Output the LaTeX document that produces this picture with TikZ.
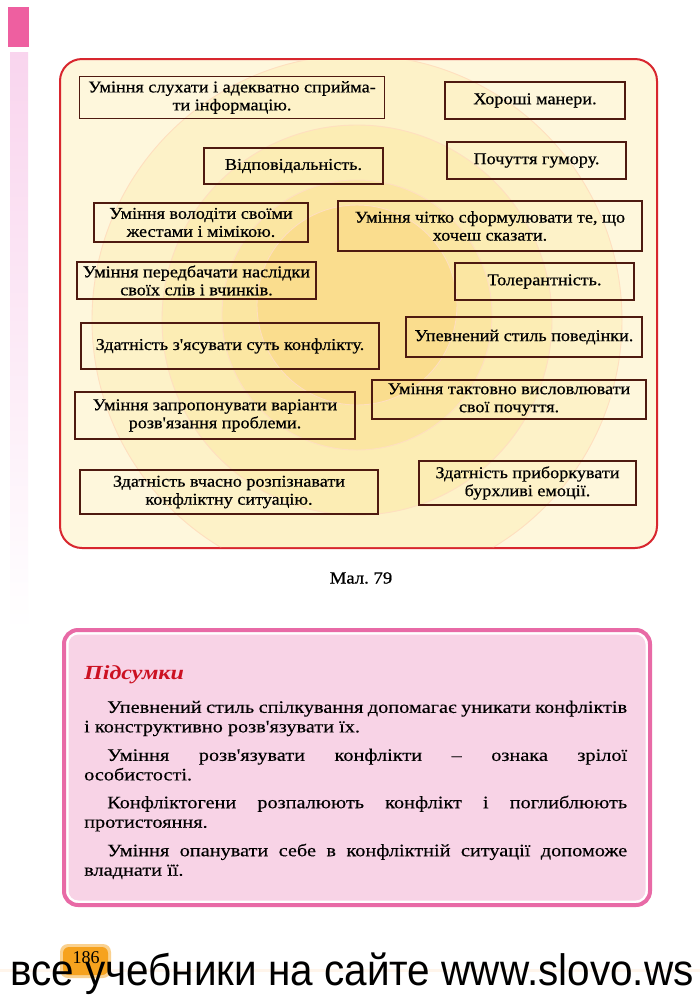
\documentclass[tikz,border=0pt]{standalone}
\usepackage{fontspec}
\setmainfont{Liberation Serif}
\newfontfamily\boxfont[FakeStretch=1.1,FakeBold=0.6]{Liberation Serif}
\newfontfamily\sumfont[FakeStretch=1.16,FakeBold=0.3]{Liberation Serif}
\newfontfamily\capfont[FakeStretch=1.1,FakeBold=0.8]{Liberation Serif}
\newfontfamily\titlefont[FakeStretch=1.2]{Liberation Serif}
\newfontfamily\wmfont[FakeStretch=0.92]{Liberation Sans}
\definecolor{framered}{HTML}{D8262E}
\definecolor{framebg}{HTML}{FEF7DC}
\definecolor{ringa}{HTML}{FDF2C8}
\definecolor{ringb}{HTML}{FCEDB4}
\definecolor{ringc}{HTML}{FBE6A2}
\definecolor{ringd}{HTML}{FADD8E}
\definecolor{boxline}{HTML}{4E1A10}
\definecolor{sumpink}{HTML}{E86AA6}
\definecolor{sumbg}{HTML}{F8D3E6}
\definecolor{titlered}{HTML}{CC1122}
\definecolor{barpink}{HTML}{EE5FA0}
\definecolor{barlight}{HTML}{F9D5EE}
\definecolor{badge}{HTML}{F6A21E}
\begin{document}
\begin{tikzpicture}[x=1pt,y=-1pt,
        box/.style={draw=boxline, line width=1.6pt, inner sep=2pt,
            align=center, font=\boxfont\fontsize{16.5}{18}\selectfont},
        ring/.style={draw=orange!25, line width=0.9pt},
        para/.style={anchor=north west, inner sep=0pt, text width=543pt,
            align=justify, font=\sumfont\fontsize{17.5}{19.5}\selectfont}]
    \useasboundingbox (0,0) rectangle (700,997);
    \fill[white] (0,0) rectangle (700,997);
    % page margin bar
    \fill[barpink] (8,7) rectangle (29,47);
    \shade[top color=barlight, bottom color=white] (10,52) rectangle (28,630);
    % figure frame with rings
    \draw[framered, line width=2pt, fill=framebg, rounded corners=22pt]
        (60,59) rectangle (657,548);
    \begin{scope}
        \clip[rounded corners=22pt] (61,60) rectangle (656,547);
        \filldraw[ring, fill=ringa] (357,320) circle[radius=265];
        \filldraw[ring, fill=ringb] (357,320) circle[radius=195];
        \filldraw[ring, fill=ringc] (357,315) circle[radius=135];
        \filldraw[ring, fill=ringd] (357,305) circle[radius=100];
    \end{scope}
    \node[box, minimum width=305, minimum height=42] (listen) at (232,97.5)
        {Уміння слухати і адекватно сприйма-\\ти інформацію.};
    \node[box, minimum width=180, minimum height=37] (manners) at (535,100.5)
        {Хороші манери.};
    \node[box, minimum width=179, minimum height=36] (duty) at (293.5,166)
        {Відповідальність.};
    \node[box, minimum width=179, minimum height=37] (humour) at (536.5,160.5)
        {Почуття гумору.};
    \node[box, minimum width=214, minimum height=39] (gesture) at (201,222.5)
        {Уміння володіти своїми\\жестами і мімікою.};
    \node[box, minimum width=304, minimum height=50] (state) at (490,226)
        {Уміння чітко сформулювати те, що\\хочеш сказати.};
    \node[box, minimum width=239, minimum height=37] (foresee) at (196.5,280.5)
        {Уміння передбачати наслідки\\своїх слів і вчинків.};
    \node[box, minimum width=179, minimum height=37] (tolerance) at (544.5,281.5)
        {Толерантність.};
    \node[box, minimum width=298, minimum height=46] (essence) at (230,346)
        {Здатність з'ясувати суть конфлікту.};
    \node[box, minimum width=236, minimum height=40] (confident) at (524,337)
        {Упевнений стиль поведінки.};
    \node[box, minimum width=280, minimum height=47] (propose) at (215,415.5)
        {Уміння запропонувати варіанти\\розв'язання проблеми.};
    \node[box, minimum width=274, minimum height=39] (tact) at (509,399.5)
        {Уміння тактовно висловлювати\\свої почуття.};
    \node[box, minimum width=298, minimum height=44] (detect) at (229,492)
        {Здатність вчасно розпізнавати\\конфліктну ситуацію.};
    \node[box, minimum width=217, minimum height=44] (tame) at (527.5,483)
        {Здатність приборкувати\\бурхливі емоції.};
    \node[font=\capfont\fontsize{17}{18}\selectfont] (caption) at (361,578) {Мал.~79};
    % summary panel
    \draw[sumpink, line width=4pt, rounded corners=14pt] (64,630) rectangle (650,905);
    \fill[sumbg, rounded corners=10pt] (68.5,634.5) rectangle (645.5,900.5);
    \node[anchor=base west, inner sep=0pt, text=titlered,
        font=\titlefont\bfseries\itshape\fontsize{20}{20}\selectfont] (title) at (84,679) {Підсумки};
    \node[para] (sumA) at (84,700.5)
        {\hspace*{23pt}Упевнений стиль спілкування допомагає уникати конфліктів\linebreak
        і конструктивно розв'язувати їх.};
    \node[para] (sumB) at (84,748.5)
        {\hspace*{23pt}Уміння розв'язувати конфлікти – ознака зрілої\linebreak
        особистості.};
    \node[para] (sumC) at (84,795.5)
        {\hspace*{23pt}Конфліктогени розпалюють конфлікт і поглиблюють\linebreak
        протистояння.};
    \node[para] (sumD) at (84,843.5)
        {\hspace*{23pt}Уміння опанувати себе в конфліктній ситуації допоможе\linebreak
        владнати її.};
    % page number and site line
    \fill[orange!8] (0,969) rectangle (700,972);
    \fill[badge!50, rounded corners=8pt] (60,944) rectangle (111,978);
    \fill[badge, rounded corners=6pt] (63,947) rectangle (108,975);
    \node[font=\fontsize{18}{18}\selectfont] (pagenum) at (86,958) {186};
    \node[anchor=base west, inner sep=0pt, font=\wmfont\fontsize{44}{44}\selectfont]
        (site) at (10,985) {все учебники на сайте www.slovo.ws};
\end{tikzpicture}
\end{document}
